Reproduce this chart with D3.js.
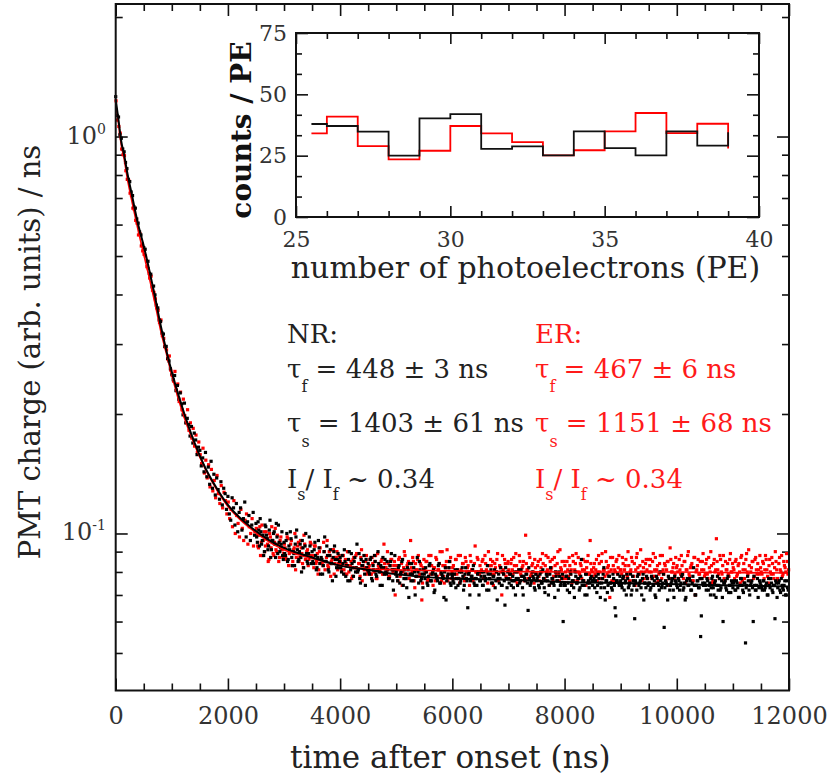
<!DOCTYPE html>
<html>
<head>
<meta charset="utf-8">
<script src="https://cdn.jsdelivr.net/npm/d3@7"></script>
<style>
  body { margin: 0; background: #fff; }
  svg { display: block; font-family: "DejaVu Serif", serif; }
</style>
</head>
<body>
<svg width="827" height="778"></svg>
<script>
// sampling step of the pulse-shape data (ns)
const timeStep = 25;
// the tail (from 2500 ns) also has samples half way between the main ones
const tailStart = 2500;

// NR (black) PMT charge per 25 ns sample, in units of 1e-4
const nrValues = [
  12600,11300,11200,10100,9900,9300,9150,8600,8300,7800,7700,7250,7100,6650,6600,6200,6050,5750,5650,5350,
  5250,5200,4850,4850,4520,4500,4180,4200,3990,3760,3700,3450,3420,3200,3180,2960,2960,2760,2720,2600,
  2520,2440,2500,2290,2360,2180,2260,2120,1990,2130,1900,1950,1880,1760,1860,1690,1790,1720,1580,1650,
  1620,1480,1550,1430,1600,1390,1470,1330,1520,1300,1410,1250,1380,1290,1220,1350,1180,1300,1260,1150,
  1240,1120,1080,1230,1160,1050,1190,1010,1130,1160,1020,1090,1200,980,1070,1110,960,1050,1130,990,
  1060,950,1020,1090,940,990,900,1040,970,930,1080,910,960,1010,870,980,1050,900,940,880,
  950,880,1000,860,910,970,830,890,940,1020,850,900,870,960,820,930,890,840,980,870,
  900,840,950,810,870,920,790,860,830,980,850,880,800,910,840,870,930,780,860,820,
  870,800,840,910,780,830,860,760,890,820,850,800,940,810,770,860,830,880,740,820,
  840,790,870,760,810,850,780,900,800,830,740,820,860,790,810,770,850,810,720,880,
  800,760,830,790,850,740,810,770,820,690,790,840,760,800,780,870,750,810,770,730,
  790,820,750,780,840,760,800,710,790,770,830,750,800,780,690,820,760,790,850,740,
  780,750,810,770,740,800,760,820,720,790,770,650,800,760,780,830,740,770,790,700,
  760,800,740,780,770,830,720,790,750,780,810,760,680,790,770,740,800,760,820,730,
  770,790,740,780,760,700,800,770,750,810,730,780,760,790,640,770,750,800,770,720,
  760,780,730,800,750,770,710,790,760,740,820,770,750,690,780,760,800,740,770,600,
  750,780,720,770,800,740,760,690,780,750,770,730,860,760,740,790,700,760,750,780,
  740,770,760,710,790,750,730,770,820,680,760,740,780,750,720,770,650,760,790,740,
  760,730,780,750,700,770,740,790,720,760,610,750,780,740,760,700,790,750,730,770,
  750,720,780,740,760,690,770,740,800,730,750,580,760,740,780,720,750,770,690,760,
  740,770,720,750,790,730,680,760,740,770,720,750,820,700,740,760,730,550,770,740,
  750,720,760,740,700,770,730,750,690,780,740,720,760,600,750,730,770,710,740,760,
  730,760,720,750,690,740,770,720,750,530,740,760,700,750,730,780,720,740,690,760,
  740,720,760,730,750,700,740,770,720,740,610,750,730,760,710,740,720,760,700,730
];
// NR tail samples in between (2512.5 ns on), units of 1e-4
const nrTailMid = [
  980,1070,930,1010,960,880,1050,990,910,1020,870,960,1000,940,1060,890,950,920,1010,860,
  890,960,850,930,1010,870,900,830,980,910,860,940,800,920,880,1000,850,890,930,840,
  850,910,880,820,960,840,870,790,900,850,930,810,880,840,760,900,860,820,890,850,
  820,880,790,850,830,760,900,810,840,780,870,820,800,890,750,830,850,790,860,810,
  800,860,770,830,880,790,810,840,740,820,870,790,800,850,770,830,890,760,810,790,
  780,820,750,800,860,770,790,730,810,840,760,790,820,700,780,800,850,760,790,810,
  770,800,740,830,760,790,810,720,780,760,840,750,790,770,800,680,780,820,750,790,
  760,790,730,810,770,750,800,780,740,820,760,790,700,780,810,750,770,740,800,760,
  780,740,800,760,720,790,770,810,750,780,730,800,770,750,820,740,790,660,770,800,
  750,790,760,730,800,770,740,810,760,780,700,770,790,750,820,740,760,780,730,790,
  770,740,790,750,810,730,760,780,700,790,750,770,740,800,760,720,780,750,790,740,
  740,780,750,710,790,760,730,800,750,770,720,780,740,760,700,790,750,730,770,760,
  760,730,780,740,770,690,750,790,730,760,710,780,750,730,790,740,620,760,750,780,
  740,770,720,760,790,730,750,700,780,740,760,720,790,750,730,770,680,750,780,740,
  750,730,770,740,700,780,750,720,760,740,790,730,750,680,770,740,760,720,780,750,
  730,760,740,780,720,750,690,770,740,760,720,780,740,700,760,730,770,620,750,740,
  740,770,720,750,730,780,700,760,740,720,770,730,690,750,760,720,780,740,710,750,
  750,720,760,730,690,770,740,710,750,730,780,720,740,760,600,740,720,770,730,750,
  730,760,720,740,700,770,730,750,710,740,760,690,750,720,770,730,740,700,760,720
];

// ER (red) PMT charge per 25 ns sample, in units of 1e-4
const erValues = [
  12300,11000,10600,10200,9300,9000,8950,8200,7800,7750,7200,7100,6600,6550,6150,6050,5650,5700,5300,5150,
  5050,5000,4700,4650,4400,4450,4100,4050,3900,3700,3650,3400,3450,3150,3100,2950,2900,2750,2800,2580,
  2500,2420,2560,2300,2380,2150,2270,2050,2180,1980,1900,2050,1820,1900,1740,1840,1660,1770,1600,1700,
  1580,1500,1640,1420,1530,1380,1490,1310,1450,1280,1360,1230,1400,1260,1190,1320,1160,1270,1210,1120,
  1200,1090,1150,1040,1210,1000,1110,1060,980,1150,1030,960,1080,1120,940,1040,1000,1090,930,1010,
  1030,930,990,880,1050,960,900,1010,940,860,980,1040,890,950,910,990,850,960,920,870,
  940,870,980,830,900,960,850,920,810,890,950,870,920,840,990,860,900,830,880,940,
  880,820,930,850,790,900,860,840,950,810,870,830,900,780,860,910,840,870,810,880,
  850,810,880,790,840,900,800,830,770,860,820,880,800,840,780,910,830,810,850,790,
  820,860,790,840,800,880,770,830,810,850,790,940,820,800,840,780,860,810,830,700,
  830,760,870,800,740,820,880,790,840,770,960,800,850,730,810,860,780,840,680,820,
  810,850,760,880,790,830,740,820,870,780,810,900,760,830,750,820,910,790,850,770,
  820,770,860,790,880,750,810,840,780,870,800,830,740,850,810,770,930,800,860,790,
  800,850,770,880,810,750,830,860,790,740,840,800,890,770,820,700,810,860,780,840,
  810,770,860,790,830,890,750,810,850,780,830,760,990,810,770,870,790,840,750,820,
  790,850,760,820,890,770,830,800,870,740,810,860,780,830,790,900,760,820,850,770,
  830,770,810,870,790,750,850,810,890,760,800,840,770,860,810,740,850,790,960,810,
  780,840,810,760,880,800,850,770,810,900,790,830,690,810,870,760,800,860,820,750,
  810,870,770,830,790,900,760,810,850,780,740,870,820,790,910,760,820,800,860,770,
  800,860,770,890,810,750,830,790,880,770,810,840,760,850,740,920,800,820,770,870,
  830,770,810,880,790,850,750,810,900,780,830,760,870,700,810,860,790,770,850,810,
  790,860,770,820,900,750,840,800,970,810,770,860,790,880,760,810,840,780,890,800,
  820,770,860,790,840,750,880,810,770,860,800,910,760,820,850,780,870,790,810,880,
  800,850,770,880,810,750,860,790,840,770,900,810,760,870,800,780,850,820,890,790
];
// ER tail samples in between (2512.5 ns on), units of 1e-4
const erTailMid = [
  990,920,1040,950,880,1010,930,970,850,1000,920,960,880,1030,900,940,870,980,910,890,
  920,860,970,890,940,830,910,1000,870,930,850,960,890,820,940,880,910,860,950,870,
  870,930,840,890,810,920,860,830,900,850,960,820,880,850,910,790,870,900,840,860,
  840,880,810,860,790,900,830,850,780,870,820,890,810,840,870,760,850,820,880,800,
  830,790,870,810,850,770,890,820,800,860,790,840,820,900,780,830,860,800,850,810,
  810,860,780,840,800,900,770,830,850,790,820,870,760,840,810,880,790,830,750,860,
  800,850,770,830,880,790,820,760,860,810,840,790,900,780,830,850,760,820,870,800,
  830,790,860,810,770,880,800,840,760,850,820,790,880,810,760,840,800,870,790,830,
  810,860,780,840,800,900,770,830,850,790,820,860,760,830,800,880,790,840,770,850,
  790,840,810,870,760,830,800,880,790,820,850,770,840,810,890,780,830,800,860,790,
  830,780,860,800,840,770,880,810,790,850,820,760,870,800,840,790,910,810,780,850,
  800,850,780,830,810,880,760,840,800,870,790,830,810,760,850,820,880,790,840,800,
  820,790,860,800,840,770,890,810,780,850,820,800,870,760,830,810,850,790,880,810,
  790,840,810,860,780,830,800,870,760,840,810,890,790,830,800,850,770,840,810,860,
  830,800,850,780,870,810,760,840,800,880,790,830,810,850,770,860,800,840,790,820,
  800,860,790,830,770,850,810,880,790,820,840,760,870,800,830,790,850,810,890,780,
  840,790,870,800,830,760,860,810,850,790,880,800,830,770,850,810,790,860,800,840,
  810,850,780,830,800,870,760,840,810,890,790,830,800,850,770,860,810,840,790,820,
  790,840,810,860,780,830,800,870,790,820,850,770,840,810,880,790,830,800,850,810
];

// fitted curves
const fitTimes = [0,50,100,150,200,300,400,500,600,700,800,900,1000,1200,1400,1600,1800,2000,2200,2400,2600,2800,3000,3500,4000,4500,5000,6000,7000,8000,9000,10000,11000,12000];
const fitNR = [1.24,1.10,0.97,0.90,0.82,0.70,0.60,0.53,0.46,0.395,0.335,0.29,0.255,0.205,0.17,0.146,0.13,0.118,0.11,0.104,0.099,0.095,0.092,0.087,0.083,0.081,0.079,0.077,0.0765,0.0755,0.075,0.0745,0.074,0.0735];
const fitER = [1.21,1.08,0.95,0.88,0.795,0.675,0.58,0.505,0.44,0.38,0.325,0.285,0.25,0.2,0.168,0.145,0.129,0.117,0.109,0.103,0.098,0.094,0.091,0.0865,0.083,0.0815,0.081,0.0805,0.0802,0.080,0.080,0.080,0.0797,0.0795];

// inset histogram: bin edges and counts per PE
const binEdges = [25.5,26,27,28,29,30,31,32,33,34,35,36,37,38,39];
const histNR = [37.9,37.1,34.8,25.0,40.2,41.9,27.8,28.8,25.1,34.9,28.1,25.1,34.9,29.1,34.5];
const histER = [34.1,40.9,28.9,23.5,27.0,37.1,34.1,30.5,25.1,27.2,34.9,42.4,34.2,38.0,27.9];

const xTicks = [0,2000,4000,6000,8000,10000,12000];
const yMajor = [0.1, 1];
const yMajorLabels = [["10","-1"],["10","0"]];
const insetXTicks = [25,30,35,40];
const insetYTicks = [0,25,50,75];

const svg = d3.select('svg');
svg.append('rect').attr('width',827).attr('height',778).attr('fill','#fff');

// ---------- main plot ----------
const L = 115.7, R = 789, T = 4, B = 690.5;
const x = d3.scaleLinear().domain([0,12000]).range([L,R]);
const y = d3.scaleLog().domain([0.04022, 2.157]).range([B,T]);

const yMinor = [0.05,0.06,0.07,0.08,0.09,0.2,0.3,0.4,0.5,0.6,0.7,0.8,0.9,2];
const xMinor = d3.range(500, 12000, 500).filter(d => d % 2000 !== 0);

function axisGroup(axis, tx, ty) {
  const g = svg.append('g').attr('transform', `translate(${tx},${ty})`).call(axis);
  g.select('.domain').remove();
  g.selectAll('line').attr('stroke','#111').attr('stroke-width',1.6);
  return g;
}

axisGroup(d3.axisBottom(x).tickValues(xTicks).tickSize(-12).tickPadding(16).tickFormat(d3.format('d')), 0, B)
  .selectAll('text').attr('font-size',24).attr('font-family','DejaVu Serif').attr('fill','#333');
axisGroup(d3.axisBottom(x).tickValues(xMinor).tickSize(-7).tickFormat(''), 0, B);
axisGroup(d3.axisTop(x).tickValues(xTicks).tickSize(-12).tickFormat(''), 0, T);
axisGroup(d3.axisTop(x).tickValues(xMinor).tickSize(-7).tickFormat(''), 0, T);
axisGroup(d3.axisLeft(y).tickValues(yMajor).tickSize(-12).tickFormat(''), L, 0);
axisGroup(d3.axisLeft(y).tickValues(yMinor).tickSize(-7).tickFormat(''), L, 0);
axisGroup(d3.axisRight(y).tickValues(yMajor).tickSize(-12).tickFormat(''), R, 0);
axisGroup(d3.axisRight(y).tickValues(yMinor).tickSize(-7).tickFormat(''), R, 0);

const yl = svg.append('g').selectAll('text').data(yMajor).join('text')
  .attr('x', 106).attr('y', d => y(d) + 7)
  .attr('text-anchor','end').attr('font-size',24).attr('fill','#333');
yl.append('tspan').text((d,i) => yMajorLabels[i][0]);
yl.append('tspan').attr('dy',-10).attr('font-size',14).text((d,i) => yMajorLabels[i][1]);

// data points
const toPts = (vals, t0) => vals.map((v,i) => ({t: t0 + i*timeStep, v: v/1e4}));
const nrPts = toPts(nrValues, 0).concat(toPts(nrTailMid, tailStart + timeStep/2));
const erPts = toPts(erValues, 0).concat(toPts(erTailMid, tailStart + timeStep/2));

// red first, black over it
const plot = svg.append('g');
plot.selectAll('.er').data(erPts).join('rect').attr('class','er')
  .attr('x', d => x(d.t + 6) - 1.6).attr('y', d => y(d.v) - 1.6)
  .attr('width',3.2).attr('height',3.2).attr('fill','#ff0000');
plot.selectAll('.nr').data(nrPts).join('rect').attr('class','nr')
  .attr('x', d => x(d.t) - 1.6).attr('y', d => y(d.v) - 1.6)
  .attr('width',3.2).attr('height',3.2).attr('fill','#000');

const fitLine = d3.line().x(d => x(d[0])).y(d => y(d[1])).curve(d3.curveMonotoneX);
plot.append('path').datum(fitTimes.map((t,i) => [t, fitER[i]]))
  .attr('d', fitLine).attr('fill','none').attr('stroke','#ff0000').attr('stroke-width',1.6);
plot.append('path').datum(fitTimes.map((t,i) => [t, fitNR[i]]))
  .attr('d', fitLine).attr('fill','none').attr('stroke','#000').attr('stroke-width',2);

svg.append('rect').attr('x',L).attr('y',T).attr('width',R-L).attr('height',B-T)
  .attr('fill','none').attr('stroke','#111').attr('stroke-width',2);

svg.append('text').attr('x', (L+R)/2 - 2).attr('y', 768).attr('text-anchor','middle')
  .attr('font-size',31).attr('fill','#222').text('time after onset (ns)');
svg.append('text').attr('transform','translate(40,352) rotate(-90)').attr('text-anchor','middle')
  .attr('font-size',29).attr('fill','#222').text('PMT charge (arb. units) / ns');

// ---------- inset ----------
const iL = 296, iR = 759, iT = 33, iB = 217;
const ix = d3.scaleLinear().domain([25,40]).range([iL,iR]);
const iy = d3.scaleLinear().domain([0,75]).range([iB,iT]);
const ixMinor = d3.range(26,40).filter(d => d % 5 !== 0);
const iyMinor = d3.range(0,75,25/3).filter((d,i) => i % 3 !== 0);

svg.append('rect').attr('x',iL).attr('y',iT).attr('width',iR-iL).attr('height',iB-iT).attr('fill','#fff');

axisGroup(d3.axisBottom(ix).tickValues(insetXTicks).tickSize(-11).tickPadding(14).tickFormat(d3.format('d')), 0, iB)
  .selectAll('text').attr('font-size',22).attr('font-family','DejaVu Serif').attr('fill','#333');
axisGroup(d3.axisBottom(ix).tickValues(ixMinor).tickSize(-6).tickFormat(''), 0, iB);
axisGroup(d3.axisTop(ix).tickValues(insetXTicks).tickSize(-11).tickFormat(''), 0, iT);
axisGroup(d3.axisTop(ix).tickValues(ixMinor).tickSize(-6).tickFormat(''), 0, iT);
axisGroup(d3.axisLeft(iy).tickValues(insetYTicks).tickSize(-12).tickPadding(9).tickFormat(d3.format('d')), iL, 0)
  .selectAll('text').attr('font-size',22).attr('font-family','DejaVu Serif').attr('fill','#333');
axisGroup(d3.axisLeft(iy).tickValues(iyMinor).tickSize(-6).tickFormat(''), iL, 0);
axisGroup(d3.axisRight(iy).tickValues(insetYTicks).tickSize(-12).tickFormat(''), iR, 0);
axisGroup(d3.axisRight(iy).tickValues(iyMinor).tickSize(-6).tickFormat(''), iR, 0);

const step = d3.line().x(d => ix(d[0])).y(d => iy(d[1])).curve(d3.curveStepAfter);
svg.append('path').datum(binEdges.map((e,i) => [e, histER[i]]))
  .attr('d', step).attr('fill','none').attr('stroke','#ff0000').attr('stroke-width',1.8);
svg.append('path').datum(binEdges.map((e,i) => [e, histNR[i]]))
  .attr('d', step).attr('fill','none').attr('stroke','#111').attr('stroke-width',1.8);

svg.append('rect').attr('x',iL).attr('y',iT).attr('width',iR-iL).attr('height',iB-iT)
  .attr('fill','none').attr('stroke','#111').attr('stroke-width',2);

svg.append('text').attr('x', (iL+iR)/2 - 2).attr('y', 278).attr('text-anchor','middle')
  .attr('font-size',30).attr('fill','#222').text('number of photoelectrons (PE)');
svg.append('text').attr('transform','translate(251,130) rotate(-90)').attr('text-anchor','middle')
  .attr('font-size',28).attr('font-weight','bold').attr('fill','#111').text('counts / PE');

// ---------- fit results ----------
const results = [
  {x: 287, color: '#222', head: 'NR:', tf: '448', dtf: '3', ts: '1403', dts: '61', ratio: '0.34'},
  {x: 535, color: '#ff1a1a', head: 'ER:', tf: '467', dtf: '6', ts: '1151', dts: '68', ratio: '0.34'}
];
const fs = 26, sub = 16;
results.forEach(r => {
  const g = svg.append('g').attr('fill', r.color).attr('font-size', fs);
  g.append('text').attr('x', r.x).attr('y', 343).text(r.head);

  const t1 = g.append('text').attr('x', r.x).attr('y', 378);
  t1.append('tspan').text('τ');
  t1.append('tspan').attr('dy', 14).attr('font-size', sub).text('f');
  t1.append('tspan').attr('dy', -14).text(` = ${r.tf} ± ${r.dtf} ns`);

  const t2 = g.append('text').attr('x', r.x).attr('y', 432);
  t2.append('tspan').text('τ');
  t2.append('tspan').attr('dy', 15).attr('font-size', sub).text('s');
  t2.append('tspan').attr('dy', -15).text(` = ${r.ts} ± ${r.dts} ns`);

  const t3 = g.append('text').attr('x', r.x).attr('y', 488);
  t3.append('tspan').text('I');
  t3.append('tspan').attr('dy', 12).attr('font-size', sub).text('s');
  t3.append('tspan').attr('dy', -12).text('/ I');
  t3.append('tspan').attr('dy', 12).attr('font-size', sub).text('f');
  t3.append('tspan').attr('dy', -12).text(`   ~ ${r.ratio}`);
});
</script>
</body>
</html>
